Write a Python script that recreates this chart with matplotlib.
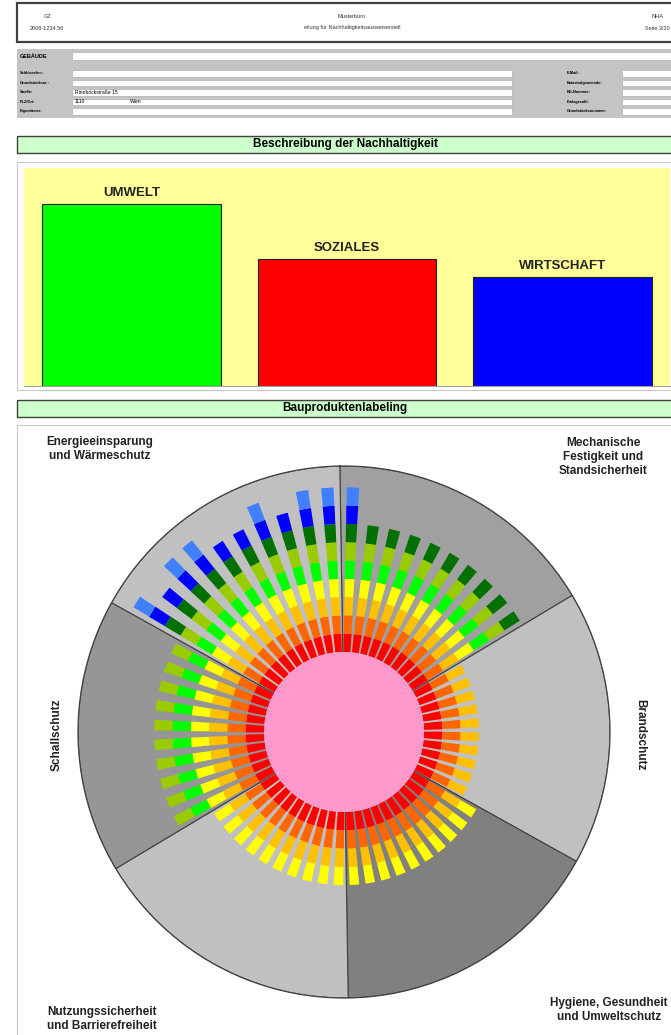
import numpy as np
import matplotlib
matplotlib.use("Agg")
import matplotlib.pyplot as plt
from matplotlib.patches import Rectangle

plt.rcParams['font.family'] = ['Liberation Sans', 'DejaVu Sans']

# Kopfzeile
header_left = ["GZ", "2008-1234.56"]
header_mid = ["Musterbüro", "eilung für Nachhaltigkeitsausweiserstell"]
header_right = ["NHA", "Seite 3/20"]

# Formular Gebäude
form_labels_left = ["Schlüsselnr.:", "Grundstücksnr.:", "Straße:", "PLZ/Ort:", "Eigentümer:"]
form_values_left = ["", "", "Rinnböckstraße 15", "1110", ""]
form_values_ort = ["", "", "", "Wien", ""]
form_labels_right = ["E-Mail:", "Katastralgemeinde:", "KG-Nummer:", "Einlagezahl:", "Grundstücksnummer:"]

# Säulen der Nachhaltigkeit
pillar_names = ["UMWELT", "SOZIALES", "WIRTSCHAFT"]
pillar_values = [5.0, 3.5, 3.0]
pillar_colors = ["#00ff00", "#ff0000", "#0000ff"]

# Bauproduktenlabeling: Sektoren im Uhrzeigersinn ab 12 Uhr
sector_names = ["Mechanische\nFestigkeit und\nStandsicherheit", "Brandschutz",
                "Hygiene, Gesundheit\nund Umweltschutz",
                "Nutzungssicherheit\nund Barrierefreiheit", "Schallschutz",
                "Energieeinsparung\nund Wärmeschutz"]
sector_colors = ["#a0a0a0", "#c0c0c0", "#808080", "#c0c0c0", "#969696", "#c0c0c0"]
levels_mech = [9, 7, 7, 7, 7, 7, 7, 7, 7, 7]
levels_brand = [3, 3, 3, 3, 3, 3, 3, 3, 3, 3]
levels_hyg = [4, 4, 4, 4, 4, 4, 4, 4, 4, 4]
levels_nutz = [4, 4, 4, 4, 4, 4, 4, 4, 4, 4]
levels_schall = [6, 6, 6, 6, 6, 6, 6, 6, 6, 6]
levels_energie = [9, 8, 9, 9, 8, 8, 9, 8, 9, 9]
level_colors = ["#ff0000", "#ff6600", "#ffc000", "#ffff00", "#00ff00",
                "#99cc00", "#007000", "#0000ff", "#4080ff"]

W, H = 671, 1035
fig = plt.figure(figsize=(W / 100, H / 100), dpi=100)
fig.patch.set_facecolor("white")


def fig_rect(x0, y0, x1, y1):
    return [x0 / W, 1 - y1 / H, (x1 - x0) / W, (y1 - y0) / H]


page = fig.add_axes([0, 0, 1, 1])
page.set_xlim(0, W)
page.set_ylim(H, 0)
page.axis("off")


def box(x0, y0, x1, y1, fc, ec="none", lw=0.8, z=1):
    page.add_patch(Rectangle((x0, y0), x1 - x0, y1 - y0, facecolor=fc,
                             edgecolor=ec, linewidth=lw, zorder=z))


# Kopfzeile
box(17, 3, 673, 42, "white", "#404040", 1.6)
for i, t in enumerate(header_left):
    page.text(47, 17 + i * 11, t, fontsize=4, ha="center", va="center", color="#333333")
for i, t in enumerate(header_mid):
    page.text(352, 17 + i * 11, t, fontsize=4, ha="center", va="center", color="#333333")
for i, t in enumerate(header_right):
    page.text(657, 17 + i * 11, t, fontsize=4, ha="center", va="center", color="#333333")

# Formular
box(17, 49, 673, 118, "#c4c4c4")
box(72, 52, 673, 60, "white", "#b0b0b0", 0.5)
page.text(20, 56, "GEBÄUDE", fontsize=4, fontweight="bold", va="center")
row_tops = [70, 79.5, 89, 98.5, 108]
for i, top in enumerate(row_tops):
    box(72, top, 512, top + 6.5, "white", "#b0b0b0", 0.5)
    box(622, top, 673, top + 6.5, "white", "#b0b0b0", 0.5)
    yc = top + 3.3
    page.text(20, yc, form_labels_left[i], fontsize=2.8, fontweight="bold", va="center")
    page.text(567, yc, form_labels_right[i], fontsize=2.8, fontweight="bold", va="center")
    if form_values_left[i]:
        page.text(75, yc, form_values_left[i], fontsize=3.6, va="center")
    if form_values_ort[i]:
        page.text(130, yc, form_values_ort[i], fontsize=3.6, va="center")

# Titelbalken
box(17, 136, 673, 153, "#ccffcc", "#404040", 1.0)
page.text(345, 144.5, "Beschreibung der Nachhaltigkeit", fontsize=8.5,
          fontweight="bold", ha="center", va="center")
box(17, 162, 673, 390, "white", "#c8c8c8", 0.8)
box(17, 400, 673, 417, "#ccffcc", "#404040", 1.0)
page.text(345, 408.5, "Bauproduktenlabeling", fontsize=8.5,
          fontweight="bold", ha="center", va="center")
box(17, 425, 673, 1040, "white", "#c8c8c8", 0.8)

# Säulendiagramm
axb = fig.add_axes(fig_rect(24, 168, 670, 386))
axb.set_facecolor("#ffff99")
xpos = np.arange(len(pillar_names))
axb.bar(xpos, pillar_values, width=0.83, color=pillar_colors,
        edgecolor="#202020", linewidth=0.8)
for x, v, name in zip(xpos, pillar_values, pillar_names):
    axb.text(x, v + 0.3, name, ha="center", va="center", fontsize=9.5,
             fontweight="bold", color="#222222")
axb.set_xlim(-0.5, 2.5)
axb.set_ylim(0, 6)
axb.set_xticks([])
axb.set_yticks([])
for s in ["top", "left", "right"]:
    axb.spines[s].set_visible(False)
axb.spines["bottom"].set_color("#a0a0a0")

# Radialdiagramm (Polarachse, Radius in Pixel)
cx, cy, R = 344, 732, 266
hub, seg = 80, 18.3
rot = np.deg2rad(0.9)
axr = fig.add_axes(fig_rect(cx - R, cy - R, cx + R, cy + R), projection="polar")
axr.set_theta_zero_location("N")
axr.set_theta_direction(-1)
axr.set_theta_offset(np.pi / 2 + rot)
axr.set_ylim(0, R)
axr.set_xticks([])
axr.set_yticks([])
axr.grid(False)
axr.spines["polar"].set_color("#404040")
axr.spines["polar"].set_linewidth(0.9)

all_levels = [levels_mech, levels_brand, levels_hyg, levels_nutz,
              levels_schall, levels_energie]
n_sec = len(sector_names)
span = 2 * np.pi / n_sec
sec_theta = (np.arange(n_sec) + 0.5) * span
axr.bar(sec_theta, R, width=span, bottom=0, color=sector_colors,
        edgecolor="#404040", linewidth=0.8, zorder=1)

n_bars = sum(len(lv) for lv in all_levels)
step = 2 * np.pi / n_bars
k = 0
for lv in all_levels:
    for level in lv:
        theta = (k + 0.5) * step
        bottoms = hub + seg * np.arange(level)
        r_mid = bottoms + seg / 2
        widths = (4.5 + 0.032 * r_mid) / r_mid
        axr.bar(np.full(level, theta), seg, width=widths, bottom=bottoms,
                color=level_colors[:level], linewidth=0, zorder=2)
        k += 1

axr.bar(0, hub, width=2 * np.pi, bottom=0, color="#ff99cc", linewidth=0, zorder=3)

# Sektorbeschriftungen
lab_kw = dict(fontsize=8.5, fontweight="bold", ha="center", va="center",
              color="#222222", linespacing=1.2)
page.text(603, 457, sector_names[0], **lab_kw)
page.text(640, 735, sector_names[1], rotation=-90, **lab_kw)
page.text(609, 1010, sector_names[2], **lab_kw)
page.text(102, 1019, sector_names[3], **lab_kw)
page.text(57, 735, sector_names[4], rotation=90, **lab_kw)
page.text(100, 449, sector_names[5], **lab_kw)

fig.savefig("out.png", dpi=100, facecolor="white")
